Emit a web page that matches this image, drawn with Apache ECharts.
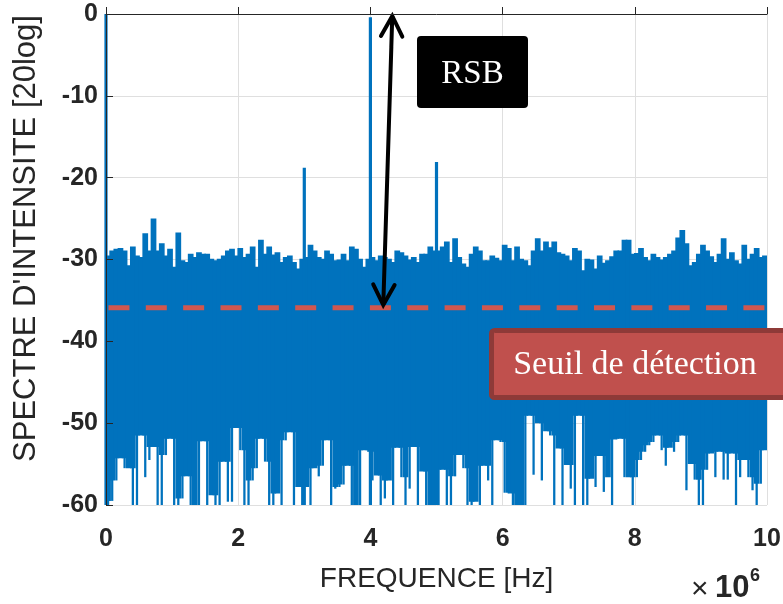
<!DOCTYPE html>
<html><head><meta charset="utf-8">
<script src="https://cdn.jsdelivr.net/npm/echarts@6/dist/echarts.min.js"></script>
<style>html,body{margin:0;padding:0;background:#fff}#c{width:783px;height:604px}</style>
</head><body><div id="c"></div>
<script>
// ---- data ----
// noise: per frequency bin (160 bins over 0..10 MHz) upper and lower envelope (dB)
const noiseHi = [
-29.5,-28.9,-28.7,-28.6,-28.9,-30.7,-28.4,-29.5,-29.7,-26.8,
-28.9,-25.0,-28.9,-28.0,-29.5,-28.7,-30.9,-26.7,-30.1,-30.3,
-29.3,-29.7,-29.1,-29.3,-29.3,-29.9,-30.1,-29.9,-29.5,-28.9,
-28.7,-29.5,-28.6,-29.7,-29.3,-28.4,-30.9,-27.6,-29.3,-28.4,
-29.4,-29.1,-30.3,-29.7,-29.5,-30.3,-31.1,-29.9,-29.7,-28.2,
-28.9,-29.7,-29.9,-28.9,-29.3,-30.1,-30.0,-29.3,-30.1,-28.4,
-28.7,-29.9,-30.9,-29.9,-29.7,-30.1,-29.5,-29.7,-29.9,-30.3,
-28.9,-29.1,-29.5,-30.0,-29.7,-30.3,-29.3,-29.3,-28.4,-28.9,
-28.9,-28.4,-27.8,-30.3,-27.4,-29.7,-30.5,-30.9,-29.3,-28.4,
-28.9,-30.1,-30.1,-29.5,-29.8,-30.1,-28.2,-28.6,-30.1,-28.4,
-29.9,-30.1,-30.7,-28.9,-27.4,-28.9,-27.8,-28.5,-27.8,-29.1,
-29.3,-29.5,-30.1,-28.6,-28.9,-31.3,-29.9,-30.0,-31.1,-29.5,
-30.4,-30.1,-29.6,-28.9,-28.9,-27.6,-27.6,-29.3,-29.2,-28.6,
-29.7,-30.1,-29.3,-29.7,-30.0,-29.7,-29.3,-28.9,-27.3,-26.4,
-28.0,-30.7,-30.3,-29.3,-28.2,-28.9,-29.6,-30.3,-29.3,-27.4,
-29.9,-29.1,-30.1,-30.5,-28.2,-29.9,-29.3,-28.6,-29.7,-29.5
];
const noiseLo = [
-60,-59.5,-57,-54.3,-55.5,-55.5,-60,-60,-51.5,-56.6,
-54.5,-52.9,-60,-60,-53.9,-51.9,-60,-60,-59.2,-56.5,
-60,-60,-60,-52.2,-60,-58.8,-60,-60,-54.7,-59.6,
-59.6,-50.6,-53.3,-60,-60,-57,-55.5,-51.9,-54.7,-60,
-60,-58.6,-60,-52.1,-51.1,-60,-57.8,-60,-57.8,-60,
-55.5,-56.5,-55.2,-52.1,-60,-58,-57.8,-57.5,-55.2,-60,
-60,-60,-53.3,-53.5,-57,-56.4,-60,-59.2,-57,-60,
-53,-56.6,-60,-58,-52.9,-60,-55.9,-60,-60,-60,
-60,-55.7,-60,-60,-56.5,-53.9,-55.5,-60,-60,-59.6,
-60,-55.2,-57,-60,-52.1,-52.3,-58.5,-58.6,-60,-60,
-60,-60,-49.1,-56.3,-50,-57,-51,-51.5,-60,-53.1,
-60,-55.1,-58,-60,-49.1,-60,-60,-56.8,-57.8,-54,
-58.4,-56.6,-60,-52,-51.9,-56.6,-56.6,-60,-56.6,-54.5,
-53.5,-52.7,-52.3,-51.5,-53.3,-55.2,-53,-53.5,-52.3,-51.5,
-58.2,-55,-56.9,-60,-60,-55.7,-53.7,-56.6,-53.5,-56.9,
-56.9,-53.7,-60,-56.6,-54.5,-56.6,-58.2,-60,-57.4,-53.3
];
// spectral peaks (frequency in MHz, level in dB)
const peakFreq  = [0, 3.0, 4.0, 5.0];
const peakLevel = [0, -18.8, -0.4, -18.1];
// detection threshold (dB)
const thresholdLevel = -35.9;
// RSB arrow end points [x, y] in data units
const arrowBottom = [4.195, -35.56];
const arrowTop    = [4.331, -0.24];
// axes
const xRange = [0, 10], xStep = 2;
const yRange = [-60, 0], yStep = 10;

// ---- chart ----
const BLUE = '#0072BD';
const AX = '#262626';
const SANS = '"Liberation Sans", Arial, Helvetica, sans-serif';
const SERIF = '"Liberation Serif", "Times New Roman", serif';
const BIN = (xRange[1] - xRange[0]) / noiseHi.length;
const COLUMN_FRAC = 0.55;   // width of the deepest part of a bin, relative to the bin (style only)

// each item: [x start, bin minimum, bin maximum, shallower neighbour minimum]
const noiseData = noiseHi.map((h, i) => {
  const prev = i > 0 ? noiseLo[i - 1] : noiseLo[i];
  const next = i < noiseLo.length - 1 ? noiseLo[i + 1] : noiseLo[i];
  return [xRange[0] + i * BIN, noiseLo[i], h, Math.max(noiseLo[i], Math.max(prev, next))];
});
const peakData = peakFreq.map((f, i) => [f, peakLevel[i]]);

const chart = echarts.init(document.getElementById('c'), null, {renderer: 'canvas'});

const commonX = {type: 'value', min: xRange[0], max: xRange[1], interval: xStep};
const commonY = {type: 'value', min: yRange[0], max: yRange[1], interval: yStep};

chart.setOption({
  animation: false,
  backgroundColor: '#fff',
  grid: {left: 106, right: 16, top: 14, bottom: 99, containLabel: false, outerBoundsMode: 'none'},
  xAxis: [
    Object.assign({}, commonX, {
      name: 'FREQUENCE [Hz]', nameLocation: 'middle', nameGap: 60,
      nameTextStyle: {fontFamily: SANS, fontSize: 28, color: AX},
      axisLine: {show: false}, axisTick: {show: false},
      axisLabel: {fontFamily: SANS, fontSize: 25, fontWeight: 'bold', color: AX, margin: 22},
      splitLine: {show: true, lineStyle: {color: '#DFDFDF', width: 1}}
    }),
    Object.assign({}, commonX, {
      position: 'bottom', z: 10,
      axisLine: {show: true, lineStyle: {color: AX, width: 1}},
      axisTick: {show: true, inside: true, length: 7, lineStyle: {color: AX}},
      axisLabel: {show: false}, splitLine: {show: false}
    })
  ],
  yAxis: [
    Object.assign({}, commonY, {
      name: "SPECTRE D'INTENSITE [20log]", nameLocation: 'middle', nameGap: 64,
      nameTextStyle: {fontFamily: SANS, fontSize: 31, color: AX, padding: [0, 0, 0, 42]},
      axisLine: {show: false}, axisTick: {show: false},
      axisLabel: {fontFamily: SANS, fontSize: 25, fontWeight: 'bold', color: AX, margin: 8},
      splitLine: {show: true, lineStyle: {color: '#DFDFDF', width: 1}}
    }),
    Object.assign({}, commonY, {
      position: 'left', z: 10,
      axisLine: {show: true, lineStyle: {color: AX, width: 1}},
      axisTick: {show: true, inside: true, length: 7, lineStyle: {color: AX}},
      axisLabel: {show: false}, splitLine: {show: false}
    })
  ],
  series: [
    {
      type: 'custom', name: 'bruit', xAxisIndex: 0, yAxisIndex: 0, z: 2, clip: true,
      data: noiseData, encode: {x: 0, y: [1, 2]},
      renderItem: function (params, api) {
        const x = api.value(0), lo = api.value(1), hi = api.value(2), solid = api.value(3);
        const p0 = api.coord([x, hi]);
        const p1 = api.coord([x + BIN, solid]);
        const w = p1[0] - p0[0];
        const children = [{type: 'rect', shape: {x: p0[0] - 0.8, y: p0[1], width: w + 1.6, height: p1[1] - p0[1]},
                style: {fill: BLUE}}];
        if (lo < solid) {
          const q = api.coord([x, lo]);
          const cw = w * COLUMN_FRAC;
          children.push({type: 'rect', shape: {x: p0[0] + (w - cw) / 2, y: p1[1] - 1, width: cw, height: q[1] - p1[1] + 1},
                style: {fill: BLUE}});
        }
        return {type: 'group', children: children};
      }
    },
    {
      type: 'custom', name: 'pics', xAxisIndex: 0, yAxisIndex: 0, z: 3, clip: false,
      data: peakData, encode: {x: 0, y: 1},
      renderItem: function (params, api) {
        const f = api.value(0), lv = api.value(1);
        const a = api.coord([f, yRange[0]]);
        const b = api.coord([f, lv]);
        return {type: 'rect', shape: {x: a[0] - 1.6, y: b[1], width: 3.2, height: a[1] - b[1]},
                style: {fill: BLUE}};
      }
    },
    {
      type: 'line', name: 'seuil', xAxisIndex: 0, yAxisIndex: 0, z: 4, symbol: 'none', silent: true,
      data: [[xRange[0], thresholdLevel], [xRange[1], thresholdLevel]],
      lineStyle: {color: '#D0574F', width: 5, type: [21, 16.35], dashOffset: 34.9, cap: 'butt'}
    },
    {
      type: 'custom', name: 'RSB', xAxisIndex: 0, yAxisIndex: 0, z: 5, clip: false,
      data: [[arrowBottom[0], arrowBottom[1], arrowTop[0], arrowTop[1]]],
      encode: {x: [0, 2], y: [1, 3]},
      renderItem: function (params, api) {
        const a = api.coord([api.value(0), api.value(1)]);
        const b = api.coord([api.value(2), api.value(3)]);
        const dx = b[0] - a[0], dy = b[1] - a[1];
        const L = Math.sqrt(dx * dx + dy * dy);
        const ux = dx / L, uy = dy / L;
        const head = 23, ang = Math.PI / 6.5;
        function chevron(tip, dirx, diry) {
          const c = Math.cos(ang), s = Math.sin(ang);
          const l1 = [tip[0] - head * (dirx * c - diry * s), tip[1] - head * (diry * c + dirx * s)];
          const l2 = [tip[0] - head * (dirx * c + diry * s), tip[1] - head * (diry * c - dirx * s)];
          return {type: 'polyline', shape: {points: [l1, tip, l2]},
                  style: {stroke: '#000', lineWidth: 4, fill: null, lineCap: 'round', lineJoin: 'miter'}};
        }
        return {type: 'group', children: [
          {type: 'line', shape: {x1: a[0], y1: a[1], x2: b[0], y2: b[1]}, style: {stroke: '#000', lineWidth: 4}},
          chevron(b, ux, uy),
          chevron(a, -ux, -uy)
        ]};
      }
    }
  ],
  graphic: [
    {type: 'rect', z: 100, shape: {x: 417, y: 36, width: 111, height: 72, r: 4}, style: {fill: '#000'}},
    {type: 'text', z: 101, x: 472.5, y: 74, style: {text: 'RSB', fill: '#fff', fontFamily: SERIF, fontSize: 33, align: 'center', verticalAlign: 'middle'}},
    {type: 'rect', z: 100, shape: {x: 491.5, y: 330.5, width: 300, height: 67, r: 3}, style: {fill: '#C0504D', stroke: '#8E3A38', lineWidth: 5}},
    {type: 'text', z: 101, x: 635, y: 365, style: {text: 'Seuil de détection', fill: '#fff', fontFamily: SERIF, fontSize: 34, align: 'center', verticalAlign: 'middle'}},
    {type: 'text', z: 101, x: 691, y: 590, style: {text: '×', fill: AX, fontFamily: SANS, fontSize: 30, align: 'left', verticalAlign: 'middle'}},
    {type: 'text', z: 101, x: 715, y: 588, style: {text: '10', fill: AX, fontFamily: SANS, fontSize: 31, fontWeight: 'bold', align: 'left', verticalAlign: 'middle'}},
    {type: 'text', z: 101, x: 750, y: 576, style: {text: '6', fill: AX, fontFamily: SANS, fontSize: 18, fontWeight: 'bold', align: 'left', verticalAlign: 'middle'}}
  ]
});
</script></body></html>
